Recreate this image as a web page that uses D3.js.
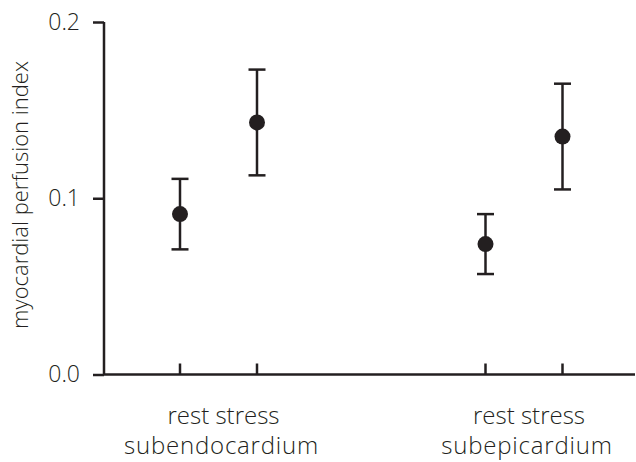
<!DOCTYPE html>
<html>
<head>
<meta charset="utf-8">
<script src="https://cdn.jsdelivr.net/npm/d3@7"></script>
<style>
  body { margin: 0; background: #fff; }
  svg text { font-family: "Open Sans", sans-serif; font-weight: 300; fill: #231f20; }
</style>
</head>
<body>
<div id="chart"></div>
<script>
// data
var groups = ["subendocardium", "subepicardium"];
var conditions = ["rest", "stress"];
var means = [0.091, 0.143, 0.074, 0.135];
var lower = [0.071, 0.113, 0.057, 0.105];
var upper = [0.111, 0.173, 0.091, 0.165];
var yTicks = [0.0, 0.1, 0.2];

var width = 636,
    height = 462,
    ink = "#231f20";

var points = means.map(function(m, i) {
    return {
        group: groups[Math.floor(i / conditions.length)],
        cond: conditions[i % conditions.length],
        mean: m,
        lo: lower[i],
        hi: upper[i]
    };
});

var svg = d3.select("#chart")
    .append("svg")
    .attr("width", width)
    .attr("height", height);

var y = d3.scaleLinear()
    .domain([0, 0.2])
    .range([374.5, 22]);

var xGroup = d3.scalePoint()
    .domain(groups)
    .range([218.5, 524]);

var xCond = d3.scalePoint()
    .domain(conditions)
    .range([-38.5, 38.5]);

function xOf(d) { return xGroup(d.group) + xCond(d.cond); }

// y axis
var yAxis = svg.append("g")
    .attr("transform", "translate(104,0)")
    .call(d3.axisLeft(y)
        .tickValues(yTicks)
        .tickFormat(d3.format(".1f"))
        .tickSize(11)
        .tickPadding(13));

yAxis.select(".domain").attr("d", "M0," + y(0.2) + "V" + y(0));

// x axis with inward ticks
var xAxisG = svg.append("g")
    .attr("transform", "translate(0," + y(0) + ")");

xAxisG.append("line")
    .attr("x1", 104).attr("x2", 635)
    .attr("y1", 0).attr("y2", 0);

xAxisG.selectAll("line.tick")
    .data(points)
    .enter().append("line")
    .attr("class", "tick")
    .attr("x1", xOf).attr("x2", xOf)
    .attr("y1", 0).attr("y2", -11);

svg.selectAll("g line, g path.domain, g .tick line")
    .attr("stroke", ink)
    .attr("stroke-width", 2.5)
    .attr("fill", "none");

yAxis.selectAll("text")
    .style("font-size", "23px")
    .attr("fill", ink);

// category labels
var labels = svg.selectAll("g.label")
    .data(groups)
    .enter().append("g")
    .attr("class", "label")
    .attr("transform", function(d) { return "translate(" + xGroup(d) + ",0)"; });

labels.append("text")
    .attr("x", 5)
    .attr("y", 424)
    .attr("text-anchor", "middle")
    .style("font-size", "24px")
    .text(conditions.join(" "));

labels.append("text")
    .attr("x", 3)
    .attr("y", 454)
    .attr("text-anchor", "middle")
    .style("font-size", "24px")
    .style("letter-spacing", "0.8px")
    .text(function(d) { return d; });

// y label
svg.append("text")
    .attr("transform", "translate(28,195) rotate(-90)")
    .attr("text-anchor", "middle")
    .style("font-size", "22px")
    .text("myocardial perfusion index");

// error bars
var bar = svg.selectAll("g.err")
    .data(points)
    .enter().append("g")
    .attr("class", "err")
    .attr("transform", function(d) { return "translate(" + xOf(d) + ",0)"; });

bar.append("line")
    .attr("x1", 0).attr("x2", 0)
    .attr("y1", function(d) { return y(d.lo); })
    .attr("y2", function(d) { return y(d.hi); });

bar.append("line")
    .attr("x1", -8.5).attr("x2", 8.5)
    .attr("y1", function(d) { return y(d.hi); })
    .attr("y2", function(d) { return y(d.hi); });

bar.append("line")
    .attr("x1", -8.5).attr("x2", 8.5)
    .attr("y1", function(d) { return y(d.lo); })
    .attr("y2", function(d) { return y(d.lo); });

bar.selectAll("line")
    .attr("stroke", ink)
    .attr("stroke-width", 2.5);

bar.append("circle")
    .attr("cx", 0)
    .attr("cy", function(d) { return y(d.mean); })
    .attr("r", 8)
    .attr("fill", ink);
</script>
</body>
</html>
